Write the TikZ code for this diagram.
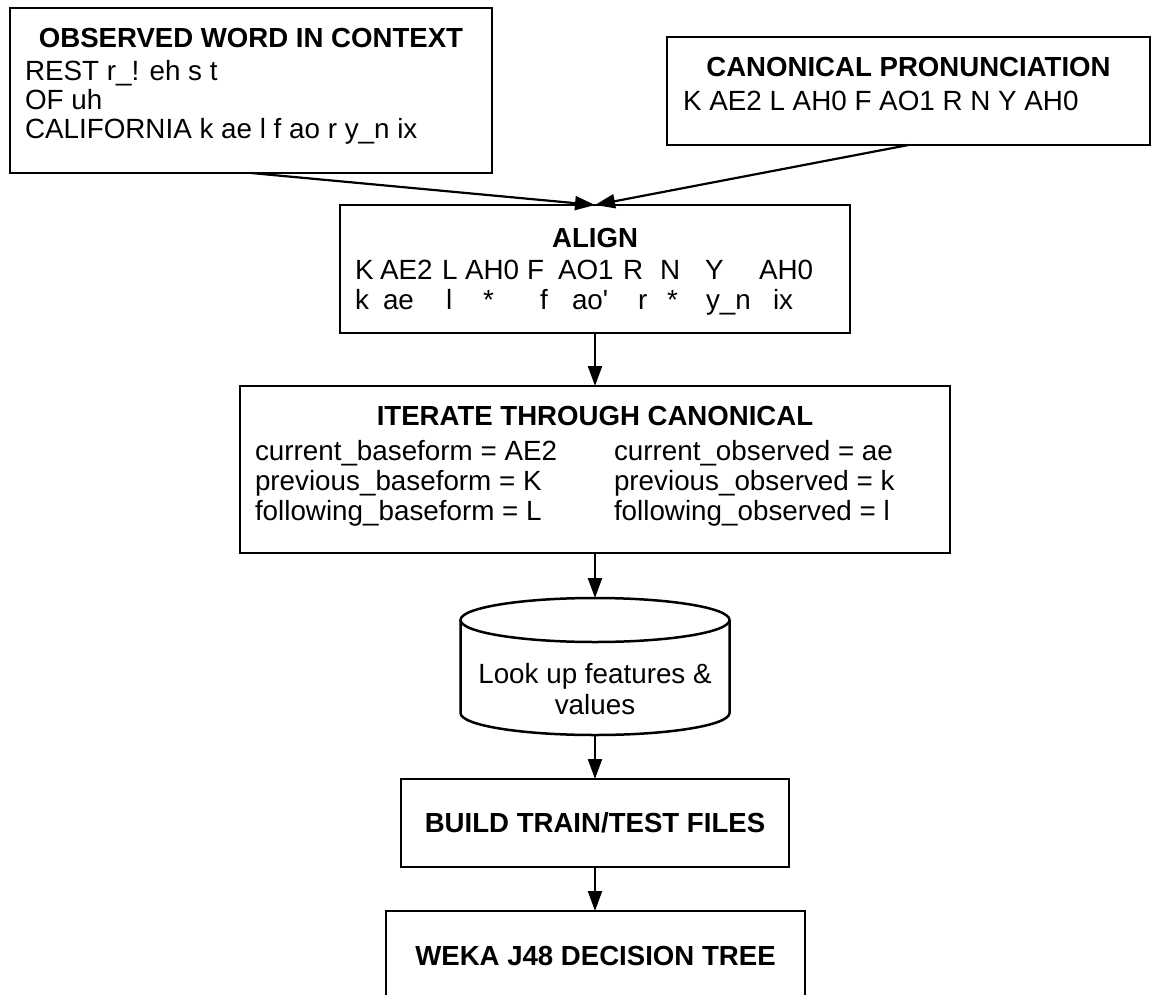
\documentclass[tikz,border=0pt]{standalone}
\usepackage{fontspec}
\newfontfamily\arialf{Liberation Sans}
\usetikzlibrary{arrows.meta}
\begin{document}
\begin{tikzpicture}[x=1pt,y=-1pt,
  box/.style={draw, line width=2.5pt, inner sep=0pt, outer sep=0pt},
  txt/.style={font=\arialf\fontsize{27.8}{29}\selectfont, inner sep=0pt, outer sep=0pt},
  ttl/.style={font=\arialf\bfseries\fontsize{27.6}{29}\selectfont, inner sep=0pt, outer sep=0pt},
  arr/.style={line width=2.2pt, -{Triangle[length=20pt,width=14pt]}}]
\useasboundingbox (0,0) rectangle (1153,995);
\clip (0,0) rectangle (1153,995);

% boxes
\node[box, minimum width=482pt, minimum height=165pt] (obs) at (251,90.5) {};
\node[box, minimum width=483pt, minimum height=108pt] (can) at (908.5,91) {};
\node[box, minimum width=510pt, minimum height=128pt] (align) at (595,269) {};
\node[box, minimum width=710pt, minimum height=167pt] (iter) at (595,469.5) {};
\node[inner sep=0pt, outer sep=0pt, minimum width=269pt, minimum height=137pt] (cyl) at (595,666.5) {};
\node[box, ttl, minimum width=388pt, minimum height=88pt, text height=19.7pt, text depth=0pt] (build) at (595,823) {BUILD TRAIN/TEST FILES};
\node[box, ttl, minimum width=419pt, minimum height=90pt, text height=19.7pt, text depth=0pt] (weka) at (595.5,956) {WEKA J48 DECISION TREE};

% cylinder
\draw[line width=2.5pt] (cyl.center) ++(0,-46.5) ellipse [x radius=134.5pt, y radius=22pt];
\draw[line width=2.5pt] (460.5,620) -- (460.5,713) arc[start angle=180, end angle=360, x radius=134.5pt, y radius=22pt] -- (729.5,620);

% observed word in context
\node[ttl, anchor=base] (obsT) at (251,48) {OBSERVED WORD IN CONTEXT};
\node[txt, anchor=base west] (obs1) at (25,81) {REST r\_! eh s t};
\node[txt, anchor=base west] (obs2) at (25,110) {OF uh};
\node[txt, anchor=base west] (obs3) at (25,139) {CALIFORNIA k ae l f ao r y\_n ix};

% canonical
\node[ttl, anchor=base] (canT) at (908.5,77) {CANONICAL PRONUNCIATION};
\node[txt, anchor=base west] (can1) at (683,111) {K AE2 L AH0 F AO1 R N Y AH0};

% align
\node[ttl, anchor=base] (alT) at (595,247) {ALIGN};
\foreach \t/\x [count=\i] in {K/355, AE2/380, L/442, AH0/465, F/527, AO1/558, R/623, N/660, Y/705, AH0/759}
  \node[txt, anchor=base west] (au\i) at (\x,279) {\t};
\foreach \t/\x [count=\i] in {k/355, ae/383, l/446, */483, f/540, ao'/572, r/638, */667, y\_n/706, ix/773}
  \node[txt, anchor=base west] (al\i) at (\x,309) {\t};

% iterate
\node[ttl, anchor=base] (itT) at (595,425) {ITERATE THROUGH CANONICAL};
\node[txt, anchor=base west] (it1) at (255,460) {current\_baseform = AE2};
\node[txt, anchor=base west] (it2) at (255,490) {previous\_baseform = K};
\node[txt, anchor=base west] (it3) at (255,520) {following\_baseform = L};
\node[txt, anchor=base west] (it4) at (614,460) {current\_observed = ae};
\node[txt, anchor=base west] (it5) at (614,490) {previous\_observed = k};
\node[txt, anchor=base west] (it6) at (614,520) {following\_observed = l};

% cylinder text
\node[txt, anchor=base] (cy1) at (595,683) {Look up features \&};
\node[txt, anchor=base] (cy2) at (595,714) {values};

% connectors
\draw[arr] (obs.south) -- (align.north);
\draw[arr] (can.south) -- (align.north);
\draw[arr] (align.south) -- (iter.north);
\draw[arr] (iter.south) -- (cyl.north);
\draw[arr] (cyl.south) -- (build.north);
\draw[arr] (build.south) -- (build.south |- weka.north);
\end{tikzpicture}
\end{document}
